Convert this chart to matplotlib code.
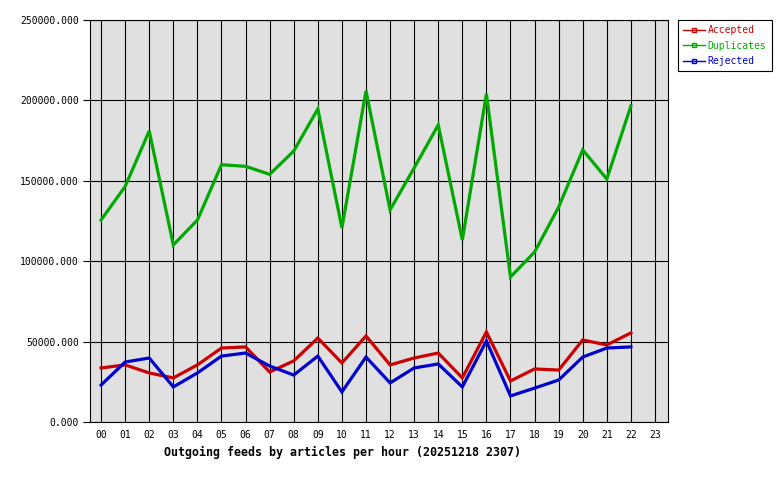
import matplotlib
matplotlib.use('Agg')
import matplotlib.pyplot as plt
from matplotlib.lines import Line2D
from matplotlib.ticker import FuncFormatter

hours = ['%02d' % h for h in range(24)]

accepted = [33600, 35500, 30500, 27400, 35500, 46000, 46700, 31100, 38000, 52200,
            36700, 53500, 35500, 39800, 42900, 27400, 56000, 25500, 33000, 32300,
            51000, 47900, 55400]
duplicates = [125600, 146500, 181000, 110100, 125600, 160000, 159000, 154000, 168500, 194700,
              120700, 205900, 131900, 158000, 184700, 113200, 204000, 90200, 105700, 133700,
              169200, 151100, 196600]
rejected = [23000, 37300, 39800, 21800, 30500, 41000, 42900, 34800, 29200, 41000,
            18700, 40400, 24300, 33600, 36100, 21800, 50400, 16200, 21100, 26100,
            40400, 46000, 46700]

series = [('Accepted', accepted, '#cc0000'),
          ('Duplicates', duplicates, '#00aa00'),
          ('Rejected', rejected, '#0000cc')]

mono = 'DejaVu Sans Mono'

fig = plt.figure(figsize=(7.8, 4.8), dpi=100)
ax = fig.add_axes([90/780, 58/480, 578/780, 402/480])
ax.set_facecolor('#e0e0e0')

for name, vals, col in series:
    ax.plot(range(len(vals)), vals, color=col, lw=2.3, solid_joinstyle='miter', zorder=3)

ax.set_xlim(-0.46, 23.54)
ax.set_ylim(0, 250000)
ax.set_xticks(range(24))
ax.set_xticklabels(hours)
ax.set_yticks(range(0, 250001, 50000))
ax.yaxis.set_major_formatter(FuncFormatter(lambda v, p: '%.3f' % v))
ax.grid(True, color='black', lw=0.8, zorder=1)
ax.set_axisbelow(True)
for sp in ax.spines.values():
    sp.set_color('black')
    sp.set_linewidth(0.8)
ax.tick_params(axis='x', length=0, pad=6)
ax.tick_params(axis='y', length=5, width=0.8, pad=3)
for lbl in ax.get_xticklabels() + ax.get_yticklabels():
    lbl.set_fontfamily(mono)
    lbl.set_fontsize(7)

fig.text(343/780, 1 - 452/480, 'Outgoing feeds by articles per hour (20251218 2307)',
         ha='center', va='center', fontfamily=mono, fontweight='bold', fontsize=8.4)

handles = [Line2D([0], [0], color=c, lw=1, marker='s', markersize=3,
                  markerfacecolor='none', markeredgecolor=c) for _, _, c in series]
leg = fig.legend(handles, [n for n, _, _ in series], loc='upper left',
                 bbox_to_anchor=(678/780, 1 - 20/480), prop={'family': mono, 'size': 7},
                 frameon=True, fancybox=False, edgecolor='black', framealpha=1,
                 handlelength=2.2, handletextpad=0.3, borderpad=0.55, labelspacing=0.55,
                 borderaxespad=0)
leg.get_frame().set_linewidth(0.8)
for txt, (_, _, c) in zip(leg.get_texts(), series):
    txt.set_color(c)

fig.savefig('out.png', dpi=100)
